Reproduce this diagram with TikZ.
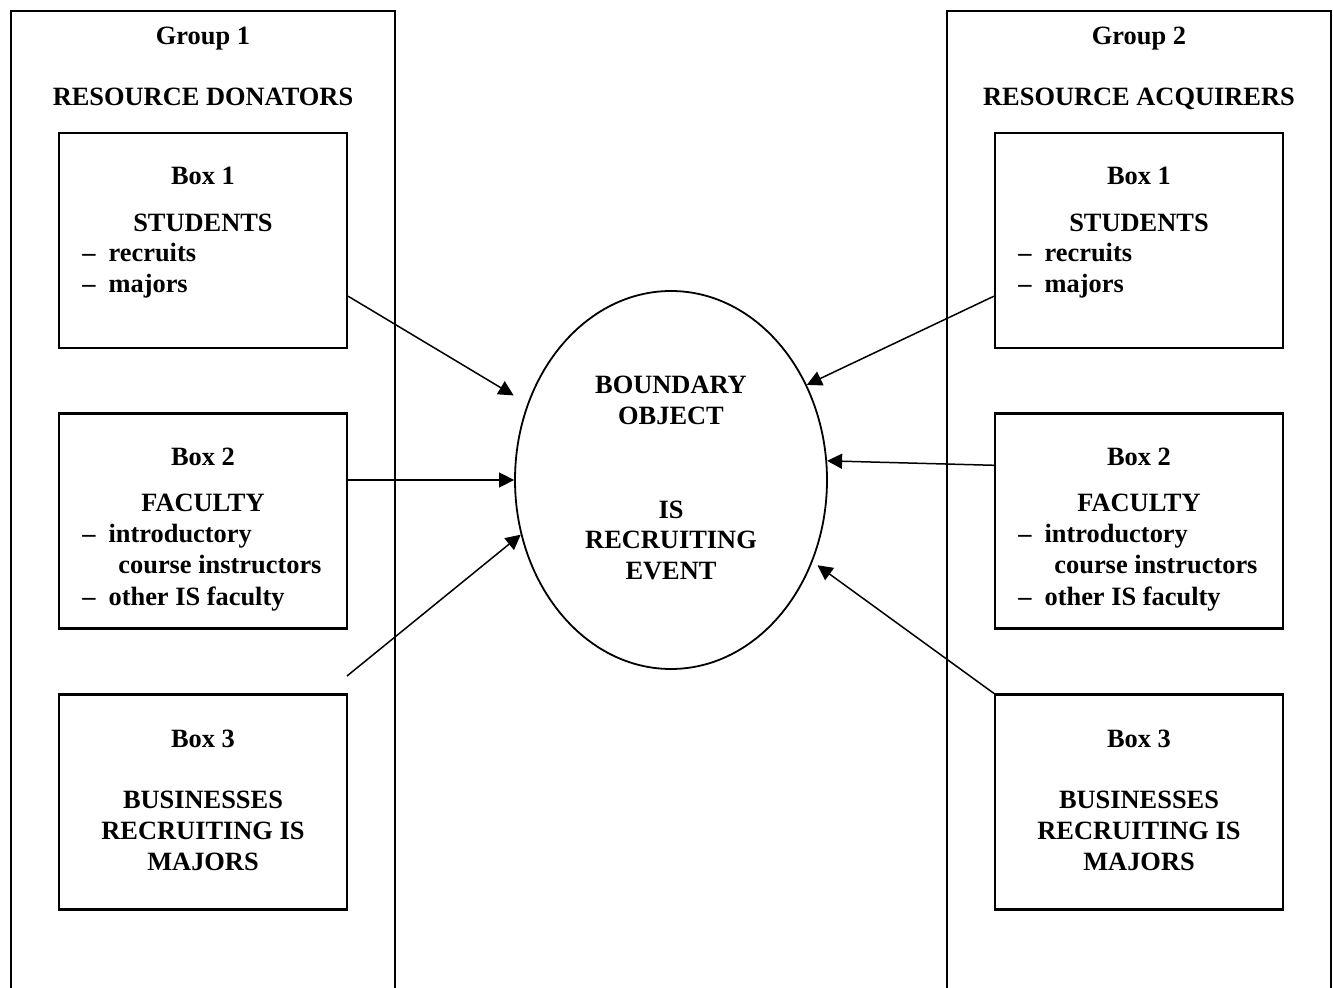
\documentclass[tikz,border=0pt]{standalone}
\usepackage{fontspec}
\setmainfont{Liberation Serif}
\usetikzlibrary{shapes.geometric, arrows.meta}

\begin{document}
\begin{tikzpicture} [x = 0.5pt, y = -0.5pt,
  lbl/.style = {anchor = base, inner sep = 0, font = \fontsize{13.2}{15.5}\selectfont\bfseries},
  item/.style = {lbl, anchor = base west},
  grp/.style = {line width = 1pt},
  box/.style = {draw, line width = 1.1pt, minimum width = 144pt, minimum height = 107.5pt, inner sep = 0},
  arr/.style = {line width = 0.75pt, -{Triangle[length = 7.5pt, width = 7.5pt]}}]
\useasboundingbox (0, 0) rectangle (1333, 988);
\node[draw, ellipse, line width = 0.9pt, minimum width = 156pt, minimum height = 189pt] (bo) at (671, 480) {};
\node[lbl] (bo1) at (671, 394) {BOUNDARY};
\node[lbl] (bo2) at (671, 425) {OBJECT};
\node[lbl] (bo3) at (671, 519) {IS};
\node[lbl] (bo4) at (671, 549) {RECRUITING};
\node[lbl] (bo5) at (671, 580) {EVENT};
\foreach \s/\dx/\num/\role in {l/0/1/DONATORS, r/936/2/ACQUIRERS} {
  \draw[grp] (11 + \dx, 988) |- (395 + \dx, 11) -- (395 + \dx, 988);
  \node[lbl] (g\s) at (203 + \dx, 45) {Group \num};
  \node[lbl] (gr\s) at (203 + \dx, 106) {RESOURCE \role};
  \node[box] (b1\s) at (203 + \dx, 240.5) {};
  \node[box] (b2\s) at (203 + \dx, 521) {};
  \node[box] (b3\s) at (203 + \dx, 802) {};
  \node[lbl] (t1\s) at (203 + \dx, 185) {Box 1};
  \node[lbl] (s1\s) at (203 + \dx, 232) {STUDENTS};
  \node[item] (s2\s) at (82 + \dx, 262) {--\hspace{6.5pt}recruits};
  \node[item] (s3\s) at (82 + \dx, 293) {--\hspace{6.5pt}majors};
  \node[lbl] (t2\s) at (203 + \dx, 466) {Box 2};
  \node[lbl] (f1\s) at (203 + \dx, 512) {FACULTY};
  \node[item] (f2\s) at (82 + \dx, 543) {--\hspace{6.5pt}introductory};
  \node[item] (f3\s) at (118 + \dx, 574) {course instructors};
  \node[item] (f4\s) at (82 + \dx, 605) {--\hspace{6.5pt}other IS faculty};
  \node[lbl] (t3\s) at (203 + \dx, 747) {Box 3};
  \node[lbl] (u1\s) at (203 + \dx, 808) {BUSINESSES};
  \node[lbl] (u2\s) at (203 + \dx, 839) {RECRUITING IS};
  \node[lbl] (u3\s) at (203 + \dx, 870) {MAJORS};
}
\coordinate (tail) at (347, 676);
\draw[arr, shorten > = 8pt] (b1l.-21) -- (bo.152);
\draw[arr] (b2l.east |- bo.west) -- (bo.west);
\draw[arr] (tail) -- (bo.200);
\draw[arr] (b1r.201) -- (bo.35);
\draw[arr] (b2r.159) -- (bo.7);
\draw[arr, shorten > = 3pt] (b3r.north west) -- (bo.330);
\end{tikzpicture}
\end{document}
